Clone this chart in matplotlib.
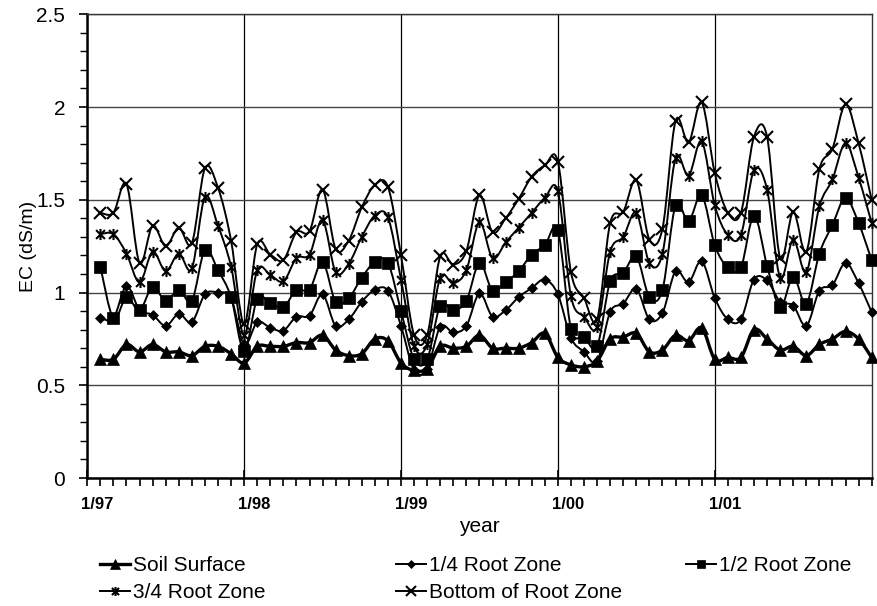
import numpy as np
import matplotlib
matplotlib.use("Agg")
import matplotlib.pyplot as plt
from matplotlib.path import Path
from matplotlib.patches import PathPatch
from matplotlib.lines import Line2D
from matplotlib.ticker import MultipleLocator
from matplotlib.transforms import ScaledTranslation

plt.rcParams['font.family'] = ['Liberation Sans', 'DejaVu Sans']

# Months elapsed since 1/97 (one reading per month, Feb 97 .. Jan 02)
months = list(range(1, 61))

soil_surface = [
    0.64, 0.64, 0.72, 0.68, 0.72, 0.68, 0.68, 0.66, 0.71, 0.71, 0.67, 0.62,
    0.71, 0.71, 0.71, 0.73, 0.73, 0.77, 0.69, 0.66, 0.67, 0.75, 0.74, 0.62,
    0.58, 0.59, 0.71, 0.70, 0.71, 0.77, 0.70, 0.70, 0.70, 0.73, 0.78, 0.65,
    0.61, 0.60, 0.63, 0.75, 0.76, 0.78, 0.68, 0.69, 0.77, 0.74, 0.81, 0.64,
    0.65, 0.65, 0.80, 0.75, 0.69, 0.71, 0.66, 0.72, 0.75, 0.79, 0.75, 0.65]

quarter_root = [
    0.865, 0.86, 1.035, 0.905, 0.88, 0.82, 0.885, 0.84, 0.99, 1.00, 0.97, 0.72,
    0.84, 0.81, 0.795, 0.87, 0.875, 0.99, 0.82, 0.855, 0.95, 1.015, 1.01, 0.82,
    0.58, 0.59, 0.815, 0.785, 0.82, 0.995, 0.87, 0.905, 0.975, 1.025, 1.07, 0.99,
    0.755, 0.68, 0.63, 0.895, 0.94, 1.02, 0.855, 0.89, 1.115, 1.055, 1.17, 0.97,
    0.855, 0.855, 1.07, 1.065, 0.95, 0.93, 0.82, 1.01, 1.04, 1.16, 1.05, 0.895]

half_root = [
    1.14, 0.86, 0.975, 0.905, 1.03, 0.955, 1.015, 0.955, 1.23, 1.12, 0.975, 0.685,
    0.965, 0.945, 0.92, 1.015, 1.015, 1.165, 0.95, 0.97, 1.08, 1.165, 1.16, 0.90,
    0.64, 0.64, 0.93, 0.905, 0.955, 1.16, 1.01, 1.055, 1.115, 1.205, 1.255, 1.335,
    0.805, 0.76, 0.71, 1.06, 1.105, 1.195, 0.975, 1.015, 1.47, 1.385, 1.525, 1.255,
    1.135, 1.135, 1.415, 1.145, 0.92, 1.085, 0.94, 1.21, 1.365, 1.51, 1.375, 1.175]

three_quarter_root = [
    1.315, 1.315, 1.21, 1.055, 1.22, 1.115, 1.21, 1.13, 1.515, 1.36, 1.14, 0.77,
    1.12, 1.095, 1.06, 1.185, 1.205, 1.39, 1.11, 1.155, 1.30, 1.415, 1.405, 1.07,
    0.71, 0.72, 1.08, 1.05, 1.12, 1.38, 1.185, 1.27, 1.35, 1.43, 1.51, 1.545,
    0.98, 0.87, 0.815, 1.22, 1.30, 1.43, 1.16, 1.21, 1.725, 1.63, 1.815, 1.47,
    1.31, 1.31, 1.66, 1.555, 1.08, 1.285, 1.11, 1.465, 1.61, 1.805, 1.62, 1.375]

bottom_root = [
    1.43, 1.43, 1.585, 1.16, 1.36, 1.25, 1.35, 1.265, 1.67, 1.565, 1.28, 0.83,
    1.26, 1.205, 1.175, 1.325, 1.33, 1.555, 1.235, 1.28, 1.46, 1.58, 1.57, 1.20,
    0.77, 0.77, 1.195, 1.15, 1.225, 1.525, 1.325, 1.40, 1.505, 1.625, 1.685, 1.705,
    1.11, 0.97, 0.855, 1.375, 1.435, 1.605, 1.285, 1.345, 1.925, 1.81, 2.025, 1.645,
    1.43, 1.43, 1.84, 1.84, 1.185, 1.435, 1.22, 1.665, 1.775, 2.015, 1.805, 1.50]

series_names = ["Soil Surface", "1/4 Root Zone", "1/2 Root Zone",
                "3/4 Root Zone", "Bottom of Root Zone"]
year_ticks = [0, 12, 24, 36, 48]
year_labels = ["1/97", "1/98", "1/99", "1/00", "1/01"]
y_ticks = [0, 0.5, 1.0, 1.5, 2.0, 2.5]
y_labels = ["0", "0.5", "1", "1.5", "2", "2.5"]

# Asterisk marker: an "x" crossed by a vertical stroke
star_marker = Path([(-1, -1), (1, 1), (-1, 1), (1, -1), (0, -1.25), (0, 1.25)],
                   [Path.MOVETO, Path.LINETO] * 3)

styles = [
    dict(marker="^", ms=8.5, mew=0.5, lw=2.4),
    dict(marker="D", ms=5.5, mew=0.5, lw=1.4),
    dict(marker="s", ms=8, mew=0.5, lw=1.4),
    dict(marker=star_marker, ms=8, mew=1.5, lw=1.4),
    dict(marker="x", ms=8.5, mew=1.5, lw=1.4),
]
all_series = [soil_surface, quarter_root, half_root, three_quarter_root, bottom_root]


def smooth_path(xs, ys):
    """Cubic Bezier path through the points (Catmull-Rom style smoothing)."""
    pts = np.column_stack([xs, ys]).astype(float)
    n = len(pts)
    verts = [pts[0]]
    codes = [Path.MOVETO]
    for i in range(n - 1):
        p0 = pts[max(i - 1, 0)]
        p1 = pts[i]
        p2 = pts[i + 1]
        p3 = pts[min(i + 2, n - 1)]
        c1 = p1 + (p2 - p0) / 6.0
        c2 = p2 - (p3 - p1) / 6.0
        verts += [c1, c2, p2]
        codes += [Path.CURVE4] * 3
    return Path(verts, codes)


fig = plt.figure(figsize=(8.77, 6.06), dpi=100)
ax = fig.add_axes([0.0995, 0.2112, 0.8944, 0.7652])

handles = []
for vals, st, name in zip(all_series, styles, series_names):
    ax.add_patch(PathPatch(smooth_path(months, vals), fill=False,
                           edgecolor="black", lw=st["lw"], zorder=3))
    ax.plot(months, vals, linestyle="none", marker=st["marker"], ms=st["ms"],
            mfc="black", mec="black", mew=st["mew"], zorder=4, clip_on=False)
    handles.append(Line2D([], [], color="black", lw=st["lw"], marker=st["marker"],
                          ms=st["ms"] * 0.8, mfc="black", mec="black", mew=st["mew"]))

ax.set_xlim(0, 60)
ax.set_ylim(0, 2.5)

ax.set_xticks(year_ticks)
ax.set_xticklabels(year_labels, fontsize=12, fontweight="bold")
ax.xaxis.set_minor_locator(MultipleLocator(1))
ax.tick_params(axis="x", which="major", direction="inout", length=12, width=1.2, pad=8)
ax.tick_params(axis="x", which="minor", direction="out", length=6, width=1.2)
shift = ScaledTranslation(10 / 100, 0, fig.dpi_scale_trans)
for lab in ax.get_xticklabels():
    lab.set_transform(lab.get_transform() + shift)

ax.set_yticks(y_ticks)
ax.set_yticklabels(y_labels, fontsize=15)
ax.yaxis.set_minor_locator(MultipleLocator(0.1))
ax.tick_params(axis="y", which="major", direction="out", length=6, width=1.2, pad=10)
ax.tick_params(axis="y", which="minor", direction="out", length=5, width=1.0)

ax.yaxis.grid(True, which="major", color="#444444", lw=1.0)
ax.xaxis.grid(True, which="major", color="black", lw=0.9)
ax.set_axisbelow(True)

for side in ("left", "bottom"):
    ax.spines[side].set_linewidth(1.8)
for side in ("top", "right"):
    ax.spines[side].set_linewidth(1.0)
    ax.spines[side].set_color("#333333")

ax.set_ylabel("EC (dS/m)", fontsize=14)
ax.yaxis.set_label_coords(-0.064, 0.5)
ax.set_xlabel("year", fontsize=15)
ax.xaxis.set_label_coords(0.5, -0.084)

leg_kw = dict(frameon=False, fontsize=15, handlelength=1.45, handletextpad=0.15,
              labelspacing=0.375, borderaxespad=0, borderpad=0)
top = 1 - 556 / 606
fig.legend([handles[0], handles[3]], [series_names[0], series_names[3]],
           loc="upper left", bbox_to_anchor=(100 / 877, top), **leg_kw)
fig.legend([handles[1], handles[4]], [series_names[1], series_names[4]],
           loc="upper left", bbox_to_anchor=(396 / 877, top), **leg_kw)
fig.legend([handles[2]], [series_names[2]],
           loc="upper left", bbox_to_anchor=(686 / 877, top), **leg_kw)

fig.savefig("out.png", dpi=100)
